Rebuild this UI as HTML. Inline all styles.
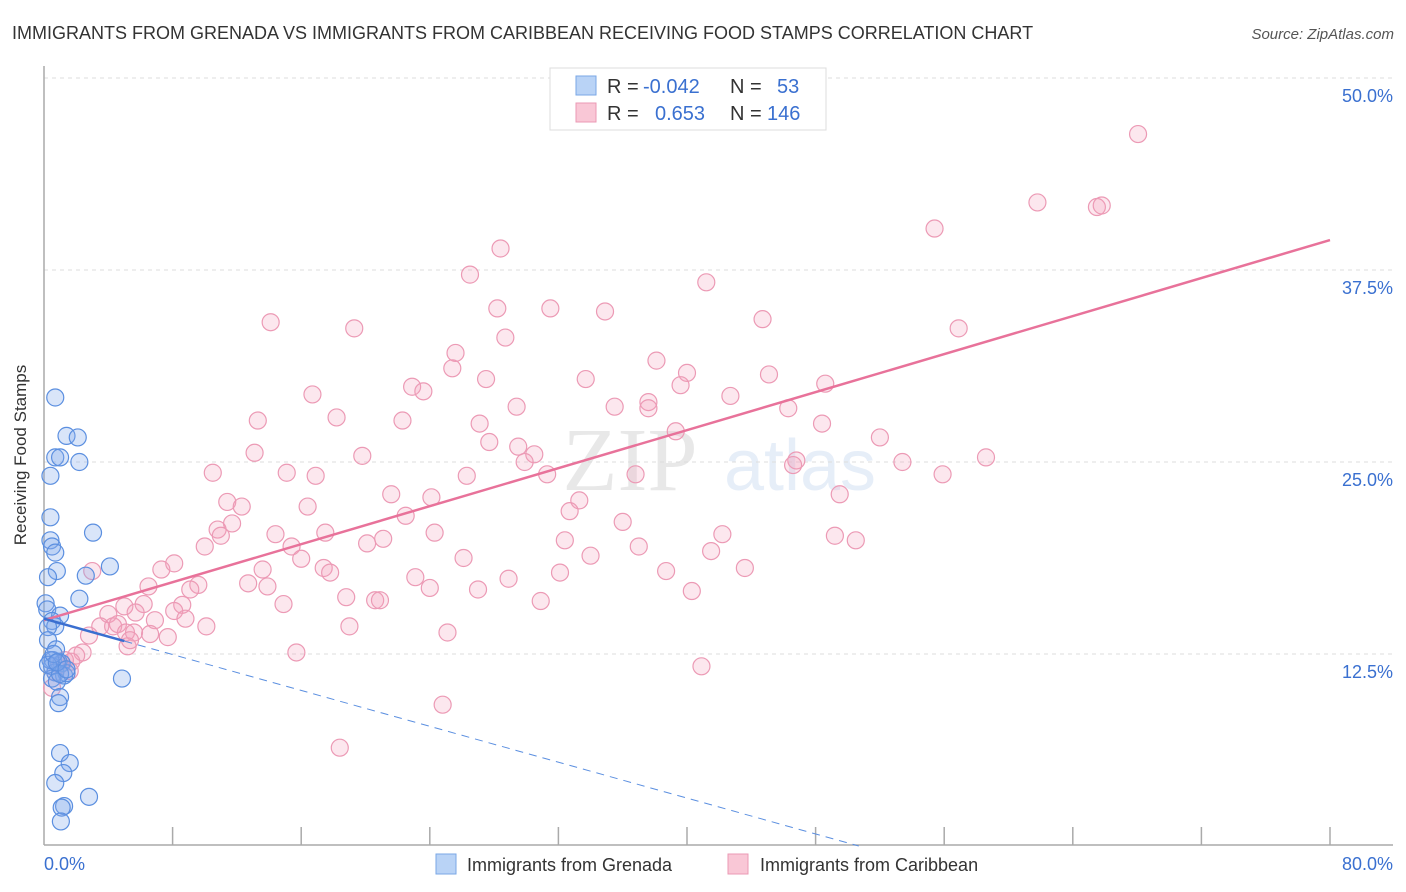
<!DOCTYPE html>
<html><head><meta charset="utf-8"><style>
body{margin:0;background:#fff;font-family:"Liberation Sans",sans-serif;}
svg{display:block}
</style></head><body>
<svg id="chart" width="1406" height="892" xmlns="http://www.w3.org/2000/svg">
<text x="12" y="39" font-size="18" fill="#333">IMMIGRANTS FROM GRENADA VS IMMIGRANTS FROM CARIBBEAN RECEIVING FOOD STAMPS CORRELATION CHART</text>
<text x="1394" y="39" font-size="15" fill="#555" font-style="italic" text-anchor="end">Source: ZipAtlas.com</text>
<g opacity="0.13">
<text x="630" y="490" font-size="90" font-family="Liberation Serif,serif" fill="#555" text-anchor="middle">ZIP</text>
<text x="800" y="490" font-size="72" fill="#4a7fd0" text-anchor="middle">atlas</text>
</g>
<g id="grid"></g>
<g id="axes"></g>
<g id="pts"></g>
<g id="lines"></g>
<text x="26" y="455" font-size="17" fill="#333" text-anchor="middle" transform="rotate(-90 26 455)">Receiving Food Stamps</text>
<g>
<rect x="550" y="68" width="276" height="62" fill="#fff" stroke="#ddd"/>
<rect x="576" y="76" width="20" height="19" fill="#b9d3f6" stroke="#7aa7e6"/>
<rect x="576" y="103" width="20" height="19" fill="#f9c7d6" stroke="#eb9ab4"/>
<text x="607" y="93" font-size="20" fill="#333">R =</text>
<text x="643" y="93" font-size="20" fill="#3a70d0">-0.042</text>
<text x="730" y="93" font-size="20" fill="#333">N =</text>
<text x="777" y="93" font-size="20" fill="#3a70d0">53</text>
<text x="607" y="120" font-size="20" fill="#333">R =</text>
<text x="655" y="120" font-size="20" fill="#3a70d0">0.653</text>
<text x="730" y="120" font-size="20" fill="#333">N =</text>
<text x="767" y="120" font-size="20" fill="#3a70d0">146</text>
</g>
<g>
<rect x="436" y="854" width="20" height="20" fill="#b9d3f6" stroke="#7aa7e6"/>
<text x="467" y="871" font-size="18" fill="#333">Immigrants from Grenada</text>
<rect x="728" y="854" width="20" height="20" fill="#f9c7d6" stroke="#eb9ab4"/>
<text x="760" y="871" font-size="18" fill="#333">Immigrants from Caribbean</text>
</g>
</svg>
<script>
const yTicks=[12.5,25,37.5,50];
const yTickLabels=["12.5%","25.0%","37.5%","50.0%"];
const xTickCount=10;
const xMax=80, yMax=50;
const xLabels=["0.0%","80.0%"];
const pinkX=[68.06,61.8,65.5,65.8,55.4,28.4,26.5,41.2,14.1,19.3,28.2,31.5,34.9,44.7,56.9,28.7,25.6,25.4,38.1,45.1,40.0,16.7,27.5,22.9,23.6,33.7,39.6,48.6,42.7,35.5,37.6,37.6,29.4,46.3,18.2,22.3,13.3,27.1,48.4,39.3,27.7,52.0,29.5,30.5,13.1,19.8,29.9,46.8,46.6,53.4,58.6,10.5,15.1,16.9,26.3,31.3,36.8,55.9,21.6,24.1,33.3,11.4,12.3,16.4,49.5,32.7,22.5,36.0,10.8,11.7,11.0,14.4,17.5,24.3,42.2,10.0,15.4,20.1,21.1,32.4,49.2,50.5,37.0,41.5,26.1,34.0,16.0,7.3,8.1,3.0,13.6,17.4,17.8,23.1,28.9,32.1,38.7,43.6,6.5,9.6,9.1,12.7,13.9,27.0,18.8,20.6,20.9,24.0,30.9,40.3,8.6,6.2,8.1,14.9,4.0,5.0,5.7,8.8,6.9,3.5,4.3,4.6,5.1,5.6,10.1,19.0,2.8,6.6,7.7,25.1,5.2,15.7,2.4,2.0,1.7,1.0,1.3,1.6,0.7,0.5,40.9,24.8,18.4,5.35];
const pinkY=[46.35,41.9,41.6,41.7,40.2,38.9,37.2,36.7,34.1,33.7,35.0,35.0,34.8,34.3,33.7,33.1,32.1,31.1,31.6,30.7,30.8,29.4,30.4,29.9,29.6,30.4,30.0,30.1,29.3,28.6,28.9,28.5,28.6,28.5,27.9,27.7,27.7,27.5,27.5,27.0,26.3,26.6,26.0,25.5,25.6,25.4,25.0,25.1,24.8,25.0,25.3,24.3,24.3,24.1,24.1,24.2,24.2,24.2,22.9,22.7,22.5,22.4,22.1,22.1,22.9,21.8,21.5,21.1,20.6,21.0,20.2,20.3,20.4,20.4,20.3,19.5,19.5,19.7,20.0,19.9,20.2,19.9,19.5,19.2,18.75,18.9,18.7,18.0,18.4,17.9,18.0,18.1,17.8,17.5,17.4,17.8,17.9,18.1,16.9,17.0,16.7,17.1,16.9,16.7,16.2,16.0,16.0,16.8,15.95,16.6,15.7,15.75,15.3,15.75,15.1,15.6,15.2,14.8,14.7,14.3,14.3,14.45,13.9,13.9,14.3,14.3,13.7,13.8,13.6,13.9,13.0,12.6,12.6,12.4,12.0,11.8,12.1,11.4,11.3,10.3,11.7,9.2,6.4,13.4];
const blueX=[0.7,1.4,2.1,0.7,1.0,2.2,0.4,0.4,3.05,0.4,0.5,0.7,0.8,2.6,0.25,4.1,2.2,0.1,0.2,1.0,0.5,0.7,0.25,0.25,0.75,0.55,0.9,1.1,0.5,0.7,1.25,1.4,0.5,0.8,4.85,1.0,0.9,1.0,1.6,1.2,0.7,2.8,1.25,1.1,1.05,0.4,0.25,1.0,0.6,0.8,1.4];
const blueY=[29.2,26.7,26.6,25.3,25.3,25.0,24.1,21.4,20.4,19.9,19.5,19.1,17.9,17.6,17.5,18.2,16.1,15.8,15.4,15.0,14.65,14.3,14.25,13.4,12.8,12.1,12.0,11.9,11.7,11.3,11.1,11.25,10.9,10.7,10.9,9.7,9.3,6.05,5.4,4.75,4.1,3.2,2.6,2.5,1.6,12.1,11.8,11.2,12.5,11.95,11.5];
const pinkFit=[14.7,39.45];
const blueFit=[14.8,-0.292];
const blueSolidEnd=5;

const NS="http://www.w3.org/2000/svg";
const X0=44,X1=1330,Y0=846,Y50=78;
const sx=v=>X0+v/xMax*(X1-X0);
const sy=v=>Y0-v/yMax*(Y0-Y50);
function mk(tag,attrs,parent){const e=document.createElementNS(NS,tag);for(const k in attrs)e.setAttribute(k,attrs[k]);parent.appendChild(e);return e;}
const grid=document.getElementById('grid'),axes=document.getElementById('axes'),pts=document.getElementById('pts'),lines=document.getElementById('lines');
yTicks.forEach((t,i)=>{
  const l=mk('line',{x1:X0,x2:1393,y1:sy(t),y2:sy(t),stroke:'#ddd','stroke-dasharray':'4,4'},grid);
  
  
  const tx=mk('text',{x:1393,y:sy(t)+24,'font-size':18,fill:'#3a70d0','text-anchor':'end'},grid);
  tx.textContent=yTickLabels[i];
  
  
});
const ya=mk('line',{x1:X0,x2:X0,y1:66,y2:845,stroke:'#aaa','stroke-width':1.5},axes);


const xa=mk('line',{x1:X0,x2:1393,y1:845,y2:845,stroke:'#aaa','stroke-width':1.5},axes);


for(let i=1;i<=xTickCount;i++){
  const x=sx(xMax*i/xTickCount);
  const t=mk('line',{x1:x,x2:x,y1:827,y2:845,stroke:'#aaa','stroke-width':1.5},axes);
  
  
}
const xl0=mk('text',{x:X0,y:870,'font-size':18,fill:'#3a70d0'},axes);
xl0.textContent=xLabels[0];


const xl1=mk('text',{x:1393,y:870,'font-size':18,fill:'#3a70d0','text-anchor':'end'},axes);
xl1.textContent=xLabels[1];


pinkX.forEach((v,i)=>{
  const c=mk('circle',{cx:sx(v),cy:sy(pinkY[i]),r:8.5,fill:'rgba(244,160,188,0.25)',stroke:'#ec9ab5','stroke-width':1.2},pts);
  
  
});
blueX.forEach((v,i)=>{
  const c=mk('circle',{cx:sx(v),cy:sy(blueY[i]),r:8.5,fill:'rgba(130,170,235,0.3)',stroke:'#5b8fe0','stroke-width':1.2},pts);
  
  
});
const pl=mk('line',{x1:sx(0),y1:sy(pinkFit[0]),x2:sx(xMax),y2:sy(pinkFit[1]),stroke:'#e8729a','stroke-width':2.5},lines);


const bf=x=>blueFit[0]+blueFit[1]*x;
const bl=mk('line',{x1:sx(0),y1:sy(bf(0)),x2:sx(blueSolidEnd),y2:sy(bf(blueSolidEnd)),stroke:'#3a6fd0','stroke-width':2.5},lines);


const xEnd=-blueFit[0]/blueFit[1];
const bd=mk('line',{x1:sx(blueSolidEnd),y1:sy(bf(blueSolidEnd)),x2:sx(xEnd),y2:sy(0),stroke:'#5b8fe0','stroke-width':1,'stroke-dasharray':'8,6'},lines);


</script>
</body></html>
